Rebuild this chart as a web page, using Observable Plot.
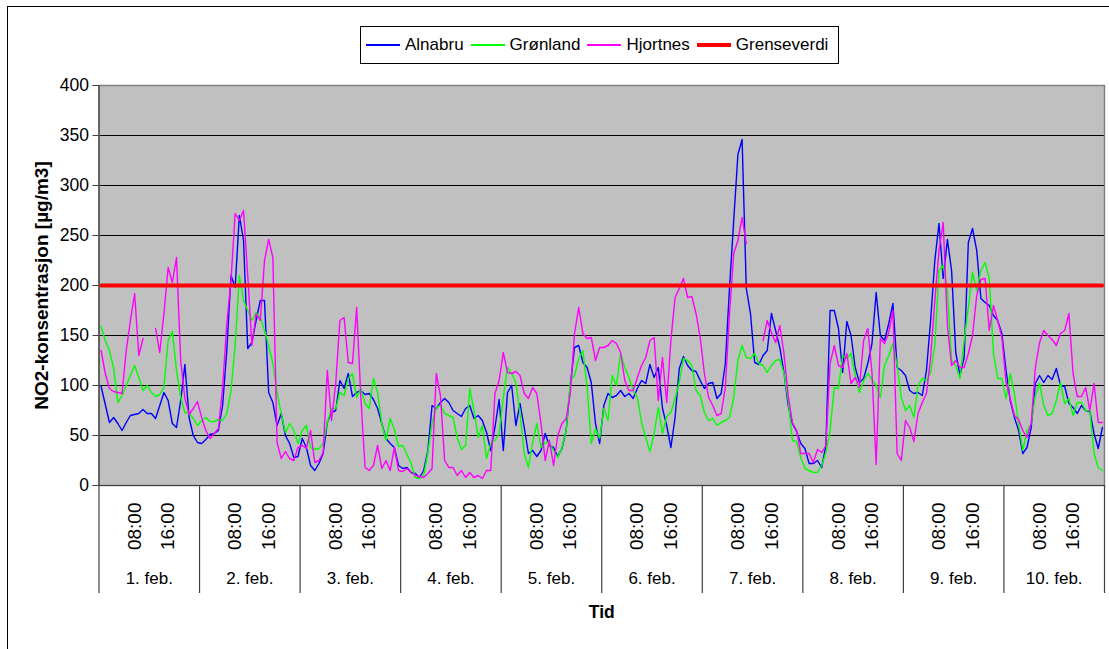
<!DOCTYPE html>
<html>
<head>
<meta charset="utf-8">
<script src="https://cdn.jsdelivr.net/npm/d3@7"></script>
<script src="https://cdn.jsdelivr.net/npm/@observablehq/plot@0.6"></script>
<style>
  html, body { margin: 0; padding: 0; background: #fff; }
  #wrap { position: relative; width: 1109px; height: 649px; overflow: hidden; font-family: "Liberation Sans", Arial, sans-serif; }
  #border { position: absolute; left: 7px; top: 6px; width: 1200px; height: 800px; border: 1.5px solid #000; pointer-events: none; }
  #legend { position: relative; height: 70px; }
  #legend .box { position: absolute; left: 360px; top: 26px; width: 479px; height: 38px; border: 1px solid #000; background: #fff; box-sizing: border-box; display: flex; align-items: center; padding-left: 5px; font-size: 17px; color: #000; }
  #legend .item { display: flex; align-items: center; margin-right: 7px; }
  #legend .sw { width: 34px; margin-right: 5px; }
  #chart { position: relative; }
</style>
</head>
<body>
<div id="wrap">
  <div id="legend"><div class="box"></div></div>
  <div id="chart"></div>
  <div id="border"></div>
</div>
<script>
// ---- data (hourly NO2, µg/m3, 1.–10. feb., 24 values per day) ----
const days = ["1. feb.", "2. feb.", "3. feb.", "4. feb.", "5. feb.", "6. feb.", "7. feb.", "8. feb.", "9. feb.", "10. feb."];
const hourTickIndex = [8, 16];
const hourTickLabels = ["08:00", "16:00"];
const yTicks = [0, 50, 100, 150, 200, 250, 300, 350, 400];
const seriesNames = ["Alnabru", "Grønland", "Hjortnes", "Grenseverdi"];
const seriesColors = ["#0000ff", "#00ff00", "#ff00ff", "#ff0000"];
const grenseverdi = 200;

const alnabru = [
  99, 81, 63, 68, 62, 55, 63, 70, 71, 72, 76, 72, 72, 67, 80, 93, 85, 62, 58, 85, 121, 68, 50, 43,
  42, 46, 51, 52, 55, 80, 135, 210, 198, 270, 245, 137, 143, 165, 185, 185, 93, 83, 60, 72, 50, 42, 28, 29,
  47, 38, 20, 15, 22, 32, 63, 73, 75, 105, 97, 112, 89, 93, 95, 91, 92, 86, 77, 62, 47, 42, 38, 20,
  17, 18, 13, 12, 8, 15, 35, 80, 77, 83, 87, 83, 75, 72, 69, 77, 80, 67, 70, 65, 53, 35, 58, 86,
  35, 93, 100, 60, 82, 58, 32, 35, 29, 35, 52, 40, 38, 29, 37, 55, 100, 138, 140, 123, 118, 103, 62, 42,
  80, 92, 88, 90, 95, 89, 92, 87, 97, 105, 102, 121, 108, 118, 77, 60, 38, 68, 117, 129, 120, 115, 114, 105,
  97, 102, 103, 87, 92, 122, 198, 265, 331, 346, 197, 172, 123, 121, 130, 135, 172, 155, 138, 113, 80, 62, 54, 42,
  37, 22, 22, 25, 18, 40, 175, 175, 157, 113, 164, 150, 118, 103, 107, 122, 142, 193, 150, 145, 162, 182, 118, 115,
  110, 95, 92, 93, 90, 115, 165, 225, 262, 207, 246, 215, 133, 110, 128, 243, 257, 235, 187, 183, 180, 170, 165, 152,
  115, 85, 68, 55, 32, 38, 58, 102, 110, 103, 110, 106, 117, 100, 99, 82, 78, 72, 80, 75, 74, 52, 37, 58
];
const gronland = [
  159, 145, 135, 117, 83, 90, 100, 110, 120, 108, 95, 100, 93, 89, 91, 98, 145, 154, 115, 88, 73, 72, 67, 60,
  65, 68, 64, 64, 66, 65, 72, 95, 140, 210, 185, 175, 165, 173, 168, 155, 140, 122, 93, 72, 53, 62, 55, 42,
  55, 60, 38, 36, 37, 42, 63, 77, 77, 93, 90, 107, 112, 88, 97, 82, 77, 107, 93, 62, 45, 67, 56, 39,
  40, 31, 22, 8, 7, 10, 33, 62, 78, 80, 72, 70, 68, 48, 36, 40, 97, 75, 48, 60, 27, 42, 45, 52,
  88, 118, 112, 103, 72, 32, 18, 43, 62, 38, 43, 43, 35, 28, 38, 55, 105, 110, 127, 135, 98, 42, 57, 47,
  77, 65, 110, 100, 132, 118, 108, 95, 88, 63, 48, 34, 52, 78, 52, 69, 73, 87, 103, 127, 125, 120, 95, 90,
  73, 65, 67, 60, 63, 65, 68, 88, 125, 140, 128, 127, 132, 122, 120, 113, 120, 125, 126, 112, 85, 45, 44, 28,
  17, 15, 13, 13, 20, 33, 55, 98, 97, 130, 127, 132, 110, 93, 105, 112, 106, 100, 88, 120, 130, 142, 120, 88,
  75, 80, 68, 100, 107, 105, 113, 140, 215, 220, 195, 125, 120, 107, 145, 178, 213, 195, 215, 223, 207, 132, 107, 107,
  87, 112, 92, 62, 35, 55, 62, 90, 102, 80, 70, 72, 85, 103, 82, 87, 70, 83, 83, 75, 75, 32, 18, 15
];
const hjortnes = [
  135, 112, 97, 94, 93, 92, 135, 165, 192, 130, 147, null, null, 157, 133, 172, 218, 203, 228, 125, 87, 71, 77, 84,
  68, 55, 47, 52, 57, 98, 162, 205, 272, 265, 275, 210, 140, 172, 165, 225, 246, 228, 43, 27, 34, 27, 25, 38,
  40, 37, 55, 23, 25, 33, 115, 65, 102, 165, 168, 123, 122, 178, 88, 18, 15, 20, 40, 17, 25, 15, 38, 15,
  14, 17, 13, 10, 9, 8, 12, 17, 112, 90, 25, 18, 18, 10, 15, 8, 13, 8, 10, 7, 15, 15, 92, 105,
  133, 113, 112, 114, 110, 92, 87, 98, 92, 62, 25, 45, 20, 50, 62, 67, 92, 152, 178, 152, 147, 148, 125, 138,
  138, 140, 145, 142, 133, 105, 95, 95, 108, 120, 128, 145, 148, 85, 128, 83, 145, 188, 197, 207, 188, 189, 172, 148,
  112, 88, 80, 70, 72, 98, 172, 232, 245, 268, 242, null, null, null, 145, 165, 153, 143, 160, 132, 90, 63, 55, 32,
  32, 32, 23, 36, 33, 40, 122, 140, 120, 118, 132, 102, 108, 98, 145, 157, 113, 21, 147, 142, 153, 175, 32, 25,
  65, 58, 44, 72, 83, 92, 128, 185, 235, 263, 160, 120, 125, 118, 118, 132, 150, 190, 206, 207, 155, 180, 165, 148,
  103, 87, 70, 66, 55, 48, 62, 118, 143, 155, 150, 146, 140, 152, 155, 172, 112, 89, 89, 98, 75, 102, 63, 63
];

// ---- legend ----
const legendBox = d3.select("#legend .box");
seriesNames.forEach((name, k) => {
  const it = legendBox.append("div").attr("class", "item");
  it.append("div").attr("class", "sw")
    .style("height", `${k === 3 ? 4 : 2}px`)
    .style("background", seriesColors[k]);
  it.append("span").text(name);
});

// ---- tables built from the arrays ----
const nHours = days.length * 24;
const measured = [alnabru, gronland, hjortnes];
const rows = [];
measured.forEach((vals, k) => vals.forEach((v, i) => rows.push({name: seriesNames[k], t: i + 0.5, v})));
const limitRows = d3.range(nHours).map(i => ({t: i + 0.5, v: grenseverdi}));
const dayBounds = d3.range(days.length + 1).map(d => d * 24);
const dayRows = days.map((label, d) => ({label, t: d * 24 + 12}));
const hourRows = days.flatMap((_, d) => hourTickIndex.map((h, j) => ({label: hourTickLabels[j], t: d * 24 + h + 0.5})));

const font = "'Liberation Sans', Arial, sans-serif";
const chart = Plot.plot({
  width: 1109,
  height: 579,
  marginLeft: 98.5,
  marginRight: 5,
  marginTop: 15,
  marginBottom: 164,
  x: {domain: [0, nHours], axis: null},
  y: {domain: [0, 400], axis: null},
  color: {domain: seriesNames, range: seriesColors},
  style: {fontFamily: font, fontSize: "17px", color: "#000", background: "transparent", overflow: "visible"},
  marks: [
    Plot.frame({fill: "#c0c0c0"}),
    Plot.ruleY(yTicks.filter(d => d > 0 && d < 400), {stroke: "#000", strokeWidth: 1}),
    Plot.line(rows, {x: "t", y: "v", z: "name", stroke: "name", strokeWidth: 1.4}),
    Plot.line(limitRows, {x: "t", y: "v", stroke: seriesColors[3], strokeWidth: 4}),
    Plot.frame({stroke: "#808080", strokeWidth: 1.5}),
    Plot.ruleX([0], {stroke: "#404040", strokeWidth: 1.2}),
    Plot.ruleY([0], {stroke: "#404040", strokeWidth: 1.2}),
    Plot.axisY({ticks: yTicks, tickSize: 6, tickPadding: 4, fontSize: 17.5, label: null, stroke: "#404040"}),
    Plot.ruleX(dayBounds, {x: d => d, y1: 0, y2: 0, insetBottom: -108, stroke: "#404040", strokeWidth: 1.2}),
    Plot.text(hourRows, {x: "t", y: 0, text: "label", rotate: -90, textAnchor: "end", dy: 17, fontSize: 19}),
    Plot.text(dayRows, {x: "t", y: 0, text: "label", dy: 93, fontSize: 17}),
    Plot.text(["Tid"], {frameAnchor: "bottom", dy: 132, fontWeight: "bold", fontSize: 17.5}),
    Plot.text(["NO2-konsentrasjon [µg/m3]"], {frameAnchor: "left", textAnchor: "middle", dx: -57, rotate: -90, fontWeight: "bold", fontSize: 19})
  ]
});
document.getElementById("chart").append(chart);
</script>
</body>
</html>
